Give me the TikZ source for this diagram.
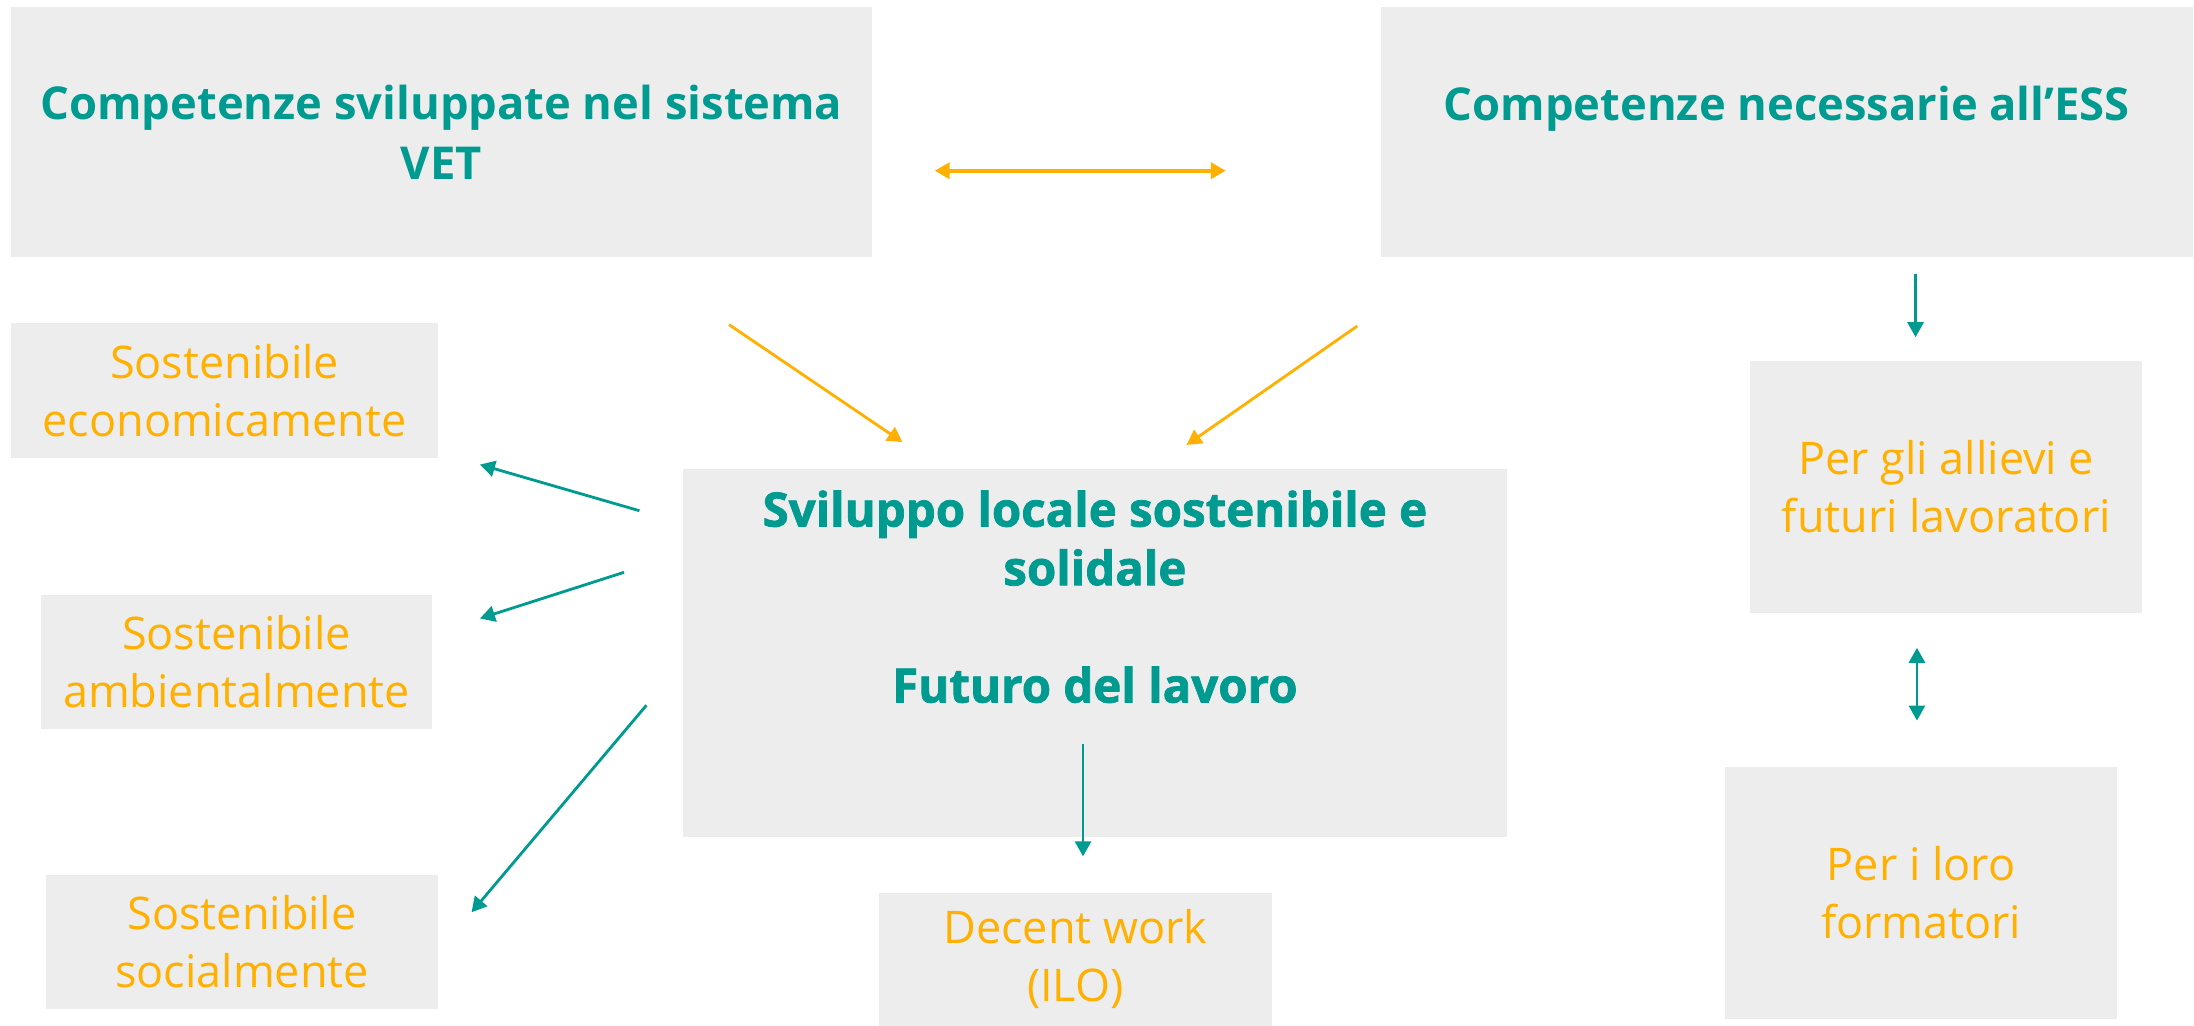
\documentclass[tikz,border=0pt]{standalone}
\usepackage{fontspec}
\setmainfont{Open Sans}
\newfontfamily\heavyfont{Open Sans}[BoldFeatures={FakeBold=1.6}]
\usepackage{tikz}
\usetikzlibrary{arrows.meta,positioning}
\definecolor{esteal}{RGB}{0,155,144}
\definecolor{esorange}{RGB}{255,176,0}
\definecolor{boxgray}{RGB}{237,237,237}
\newlength{\pxu}
\setlength{\pxu}{0.14mm}

\begin{document}
\begin{tikzpicture}[
    x=0.14mm, y=-0.14mm,
    box/.style={rectangle, fill=boxgray, inner sep=0pt, align=center},
    head/.style={box, font=\fontsize{12.9}{17}\selectfont\bfseries, text=esteal},
    body/.style={box, font=\fontsize{12.8}{16.5}\selectfont, text=esorange},
    arrow/.style={-{Triangle[length=1.5mm, width=1.6mm]}, line width=0.8pt},
    both/.style={{Triangle[length=1.5mm, width=1.6mm]}-{Triangle[length=1.5mm, width=1.6mm]}, line width=0.8pt}
]
\useasboundingbox (0,0) rectangle (1568,732.6);

% Competence boxes
\node[head, minimum width=615\pxu, minimum height=179\pxu] (vet) at (315.5,94.5) {Competenze sviluppate nel sistema\\VET};
\node[head, minimum width=580\pxu, minimum height=179\pxu, text depth=16.5pt] (ess) at (1277,94.5) {Competenze necessarie all’ESS};

% Central box
\node[head, font=\fontsize{13.5}{16.7}\selectfont\heavyfont\bfseries, minimum width=589\pxu, minimum height=263\pxu, text depth=32pt] (local) at (782.5,466.5) {Sviluppo locale sostenibile e\\solidale\\[16.7pt]Futuro del lavoro};

% Sustainability boxes
\node[body, minimum width=305\pxu, minimum height=96\pxu] (eco) at (160.5,279) {Sostenibile\\economicamente};
\node[body, minimum width=280\pxu, minimum height=96\pxu] (amb) at (169,473) {Sostenibile\\ambientalmente};
\node[body, minimum width=280\pxu, minimum height=96\pxu] (soc) at (173,673) {Sostenibile\\socialmente};
\node[body, minimum width=281\pxu, minimum height=95\pxu] (decent) at (768.5,685.5) {Decent work\\(ILO)};

% Target boxes
\node[body, minimum width=280\pxu, minimum height=180\pxu] (allievi) at (1391,348) {Per gli allievi e\\futuri lavoratori};
\node[body, minimum width=280\pxu, minimum height=180\pxu] (formatori) at (1373,638) {Per i loro\\formatori};

% Arrow ends
\coordinate (vet-e) at (668,122);
\coordinate (ess-w) at (876,122);
\coordinate (vet-s) at (521,232);
\coordinate (local-nw) at (645,316);
\coordinate (ess-sw) at (970,233);
\coordinate (local-ne) at (848,318);
\coordinate (local-w1) at (457,365);
\coordinate (eco-e) at (343,332);
\coordinate (local-w2) at (446,409);
\coordinate (amb-e) at (343,442);
\coordinate (local-w3) at (462,504);
\coordinate (soc-e) at (337,652);
\coordinate (local-s) at (774,532);
\coordinate (decent-n) at (774,612);
\coordinate (ess-s) at (1369,196);
\coordinate (allievi-n) at (1369,241);
\coordinate (allievi-s) at (1370,463);
\coordinate (formatori-n) at (1370,515);

% Arrows
\draw[both, esorange, line width=1.1pt] (vet-e) -- (ess-w);
\draw[arrow, esorange] (vet-s) -- (local-nw);
\draw[arrow, esorange] (ess-sw) -- (local-ne);
\draw[arrow, esteal] (local-w1) -- (eco-e);
\draw[arrow, esteal] (local-w2) -- (amb-e);
\draw[arrow, esteal] (local-w3) -- (soc-e);
\draw[arrow, esteal] (local-s) -- (decent-n);
\draw[arrow, esteal] (ess-s) -- (allievi-n);
\draw[both, esteal] (allievi-s) -- (formatori-n);
\end{tikzpicture}
\end{document}
